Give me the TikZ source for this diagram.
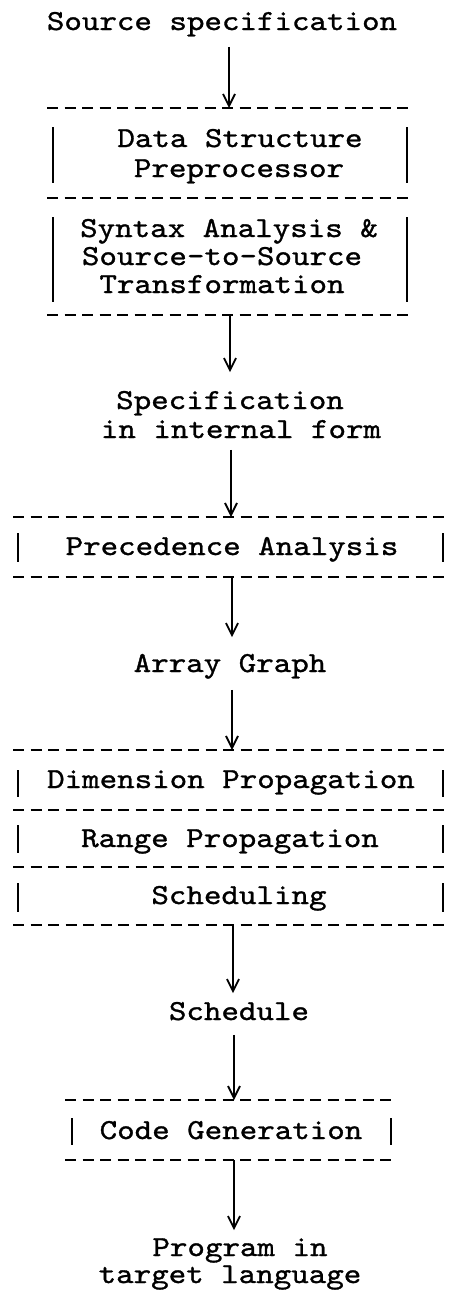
\documentclass[tikz,border=0pt]{standalone}
\usepackage{fontspec}
\usetikzlibrary{arrows.meta}
\newfontfamily\labfam{lmmono10-regular.otf}[FakeStretch=1.15,FakeBold=1.1]
\newcommand\labfont{\labfam\fontsize{29}{29}\selectfont}

\tikzset{
  lbl/.style={font=\labfont, inner sep=0pt, anchor=base,
              text height=21.75pt, text depth=8.7pt},
  rule/.style={line width=2.2pt, dash pattern=on 11pt off 6.5pt},
  bar/.style={line width=1.8pt},
  arr/.style={line width=1.7pt, -{Straight Barb[length=12pt,width=12pt,line width=1.8pt]}}
}

\begin{document}
\begin{tikzpicture}[x=1pt,y=-1pt]
\useasboundingbox[fill=white] (0,0) rectangle (448,1291);

% ---- labels between stages ----
\node[lbl] (src)   at (222,30)   {Source specification};
\node[lbl] (spec1) at (230,409)  {Specification};
\node[lbl] (spec2) at (241,438)  {in internal form};
\node[lbl] (ag)    at (230,672)  {Array Graph};
\node[lbl] (sch)   at (239,1020) {Schedule};
\node[lbl] (prg1)  at (240,1256) {Program in};
\node[lbl] (prg2)  at (230,1283) {target language};

% ---- stage 1: preprocessing and transformation ----
\coordinate (Atop) at (229,108);
\coordinate (Abot) at (230,315);
\draw[rule] (47,108) -- (413,108);
\draw[rule] (47,198) -- (413,198);
\draw[rule] (47,315) -- (413,315);
\draw[bar] (53,127) -- (53,183);  \draw[bar] (407,127) -- (407,183);
\draw[bar] (53,217) -- (53,302);  \draw[bar] (407,217) -- (407,302);
\node[lbl] (ds1) at (240,147) {Data Structure};
\node[lbl] (ds2) at (239,177) {Preprocessor};
\node[lbl] (sy1) at (229,237) {Syntax Analysis \&};
\node[lbl] (sy2) at (222,265) {Source-to-Source};
\node[lbl] (sy3) at (222,293) {Transformation};

% ---- stage 2: precedence analysis ----
\coordinate (Btop) at (231,517);
\coordinate (Bbot) at (232,577);
\draw[rule] (13,517) -- (448,517);
\draw[rule] (13,577) -- (448,577);
\draw[bar] (18,533) -- (18,562);  \draw[bar] (443,533) -- (443,562);
\node[lbl] (pa) at (232,555) {Precedence Analysis};

% ---- stage 3: propagation and scheduling ----
\coordinate (Ctop) at (232,750);
\coordinate (Cbot) at (233,925);
\draw[rule] (13,750) -- (448,750);
\draw[rule] (13,810) -- (448,810);
\draw[rule] (13,867) -- (448,867);
\draw[rule] (13,925) -- (448,925);
\draw[bar] (18,770) -- (18,797);  \draw[bar] (443,770) -- (443,797);
\draw[bar] (18,825) -- (18,853);  \draw[bar] (443,825) -- (443,853);
\draw[bar] (18,883) -- (18,912);  \draw[bar] (443,883) -- (443,912);
\node[lbl] (dp) at (231,788) {Dimension Propagation};
\node[lbl] (rp) at (230,847) {Range Propagation};
\node[lbl] (sc) at (239,904) {Scheduling};

% ---- stage 4: code generation ----
\coordinate (Dtop) at (234,1100);
\coordinate (Dbot) at (234,1160);
\draw[rule] (65,1100) -- (397,1100);
\draw[rule] (65,1160) -- (397,1160);
\draw[bar] (72,1118) -- (72,1145);  \draw[bar] (391,1118) -- (391,1145);
\node[lbl] (cg) at (231,1139) {Code Generation};

% ---- flow arrows ----
\draw[arr, shorten <=8pt]  (src.south -| Atop) -- (Atop);
\draw[arr, shorten >=15pt] (Abot) -- (Abot |- spec1.north);
\draw[arr, shorten <=3pt]  (spec2.south -| Btop) -- (Btop);
\draw[arr, shorten >=13pt] (Bbot) -- (Bbot |- ag.north);
\draw[arr, shorten <=9pt]  (ag.south -| Ctop) -- (Ctop);
\draw[arr, shorten >=5pt]  (Cbot) -- (Cbot |- sch.north);
\draw[arr, shorten <=6pt]  (sch.south -| Dtop) -- (Dtop);
\draw[arr, shorten >=4pt]  (Dbot) -- (Dbot |- prg1.north);
\end{tikzpicture}
\end{document}
